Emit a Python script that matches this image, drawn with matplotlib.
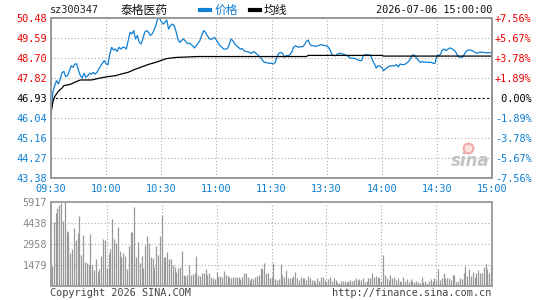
import matplotlib
matplotlib.use('Agg')
import matplotlib.pyplot as plt
from matplotlib.lines import Line2D
import numpy as np

# ---- data ----
code = 'sz300347'
name = '泰格医药'
stamp = '2026-07-06 15:00:00'
prev_close = 46.93

time_labels = ['09:30', '10:00', '10:30', '11:00', '11:30', '13:30', '14:00', '14:30', '15:00']
price_ticks = [43.38, 44.27, 45.16, 46.04, 46.93, 47.82, 48.70, 49.59, 50.48]
price_labels = ['43.38', '44.27', '45.16', '46.04', '46.93', '47.82', '48.70', '49.59', '50.48']
pct_labels = ['-7.56%', '-5.67%', '-3.78%', '-1.89%', ' 0.00%', '+1.89%', '+3.78%', '+5.67%', '+7.56%']
vol_ticks = [1479, 2958, 4438, 5917]

# one price per minute, 09:30 .. 11:30 then 13:00 .. 15:00
price = [
    46.25, 47.18, 47.48, 47.70, 47.55, 47.77, 48.05, 48.11, 47.88, 47.92,
    48.14, 48.36, 48.29, 48.44, 48.44, 48.15, 47.92, 47.82, 48.03, 47.85,
    47.92, 48.03, 47.99, 48.07, 47.99, 48.07, 48.22, 48.36, 48.47, 48.59,
    48.44, 48.41, 48.88, 49.18, 49.06, 49.10, 49.00, 49.18, 49.10, 49.18,
    49.18, 49.10, 49.47, 49.85, 49.77, 49.92, 49.55, 49.70, 49.40, 49.33,
    49.55, 49.85, 49.92, 49.85, 49.70, 49.77, 49.92, 50.14, 50.44, 50.48,
    50.33, 50.21, 50.29, 50.39, 49.99, 50.14, 50.21, 50.15, 49.90, 49.55,
    49.40, 49.47, 49.55, 49.47, 49.36, 49.36, 49.33, 49.25, 49.15, 49.25,
    49.36, 49.47, 49.70, 49.92, 49.85, 49.70, 49.59, 49.52, 49.57, 49.62,
    49.50, 49.36, 49.25, 49.18, 49.10, 49.10, 49.12, 49.30, 49.55, 49.47,
    49.33, 49.25, 49.18, 49.10, 49.13, 49.03, 49.00, 48.98, 48.96, 48.91,
    48.98, 48.96, 48.88, 48.81, 48.74, 48.62, 48.51, 48.51, 48.48, 48.47,
    48.47, 48.44, 48.51, 48.76, 48.91, 48.96, 48.91, 48.74, 48.81, 48.81,
    48.85, 48.96, 49.18, 49.25, 49.21, 49.18, 49.21, 49.21, 49.30, 49.45,
    49.50, 49.30, 49.25, 49.25, 49.21, 49.25, 49.27, 49.30, 49.28, 49.25,
    49.25, 49.18, 49.03, 48.85, 48.81, 48.81, 48.88, 48.91, 48.91, 48.88,
    48.85, 48.81, 48.76, 48.70, 48.70, 48.69, 48.66, 48.62, 48.59, 48.59,
    48.81, 48.85, 48.85, 48.85, 48.81, 48.59, 48.44, 48.26, 48.36, 48.34,
    48.29, 48.14, 48.22, 48.29, 48.34, 48.36, 48.36, 48.36, 48.41, 48.31,
    48.44, 48.41, 48.41, 48.44, 48.51, 48.59, 48.74, 48.85, 48.81, 48.70,
    48.59, 48.51, 48.55, 48.51, 48.53, 48.51, 48.51, 48.51, 48.47, 48.47,
    48.81, 48.81, 48.88, 49.06, 49.10, 49.03, 49.10, 49.15, 49.13, 49.06,
    49.00, 48.85, 48.76, 48.74, 48.74, 48.88, 49.00, 49.06, 49.06, 49.03,
    49.00, 48.94, 48.91, 48.96, 48.96, 48.96, 48.94, 48.94, 48.94, 48.94,
    48.94,
]

# average price line (minute index, value)
avg_min = [0, 1, 2, 4, 6, 7, 9, 11, 13, 15, 16, 22, 27, 31, 35, 38, 42, 45, 49, 53,
           57, 60, 63, 68, 80, 139, 140, 180, 181, 240]
avg_val = [46.25, 46.74, 46.99, 47.23, 47.37, 47.48, 47.51, 47.55, 47.63, 47.70,
           47.73, 47.73, 47.82, 47.88, 47.92, 47.99, 48.07, 48.18, 48.30, 48.42,
           48.51, 48.60, 48.68, 48.73, 48.77, 48.77, 48.82, 48.82, 48.79, 48.79]

volume = [
    1385, 4461, 5095, 5447, 5682, 5800, 4555, 5917, 3851, 3757,
    2278, 2559, 4039, 3217, 3686, 4907, 2160, 3569, 1691, 1620,
    1456, 3616, 1456, 1104, 1855, 986, 1174, 2090, 3264, 3217,
    1221, 2278, 2559, 4673, 3264, 2982, 4156, 2465, 2043, 2278,
    2090, 1150, 2794, 3804, 3804, 5565, 2043, 3052, 1573, 2090,
    1221, 2865, 3499, 2982, 2043, 1925, 1291, 2794, 2160, 3499,
    4978, 2043, 2043, 2395, 1855, 1855, 1456, 1291, 986, 1221,
    1291, 2442, 751, 681, 751, 1456, 751, 822, 869, 2090,
    751, 704, 869, 869, 1174, 751, 916, 587, 517, 446,
    986,
    587, 681, 634, 1033, 751, 681, 587, 517, 634, 587,
    634, 587, 446, 587, 869, 869, 587, 399, 517, 446,
    587, 681, 751, 1221, 1150, 1573, 869, 916, 517, 587,
    1573, 446, 399, 446, 1526, 751, 587, 1104, 517, 517,
    517, 681, 986, 517, 399, 587, 517, 517, 399, 681,
    564, 399, 399, 282, 517, 352, 587, 587, 399, 282,
    446, 634, 352, 517, 399, 282, 164, 352, 352, 352,
    282, 352, 399, 352, 399, 517, 399, 446, 399, 517,
    282, 352, 517, 517, 869, 587, 681, 634, 517, 352,
    2160, 751, 517, 399, 751, 517, 587, 399, 517, 352,
    282, 587, 352, 446, 282, 446, 352, 282, 352, 282,
    211, 587, 282, 352, 211, 352, 446, 352, 517, 399,
    1150, 399, 517, 916, 564, 564, 517, 399, 751, 751,
    282, 352, 517, 446, 916, 1385, 681, 1150, 681, 986,
    634, 869, 1104, 916, 916, 1338, 1526, 1174, 869, 1526,
]

# ---- style ----
BLUE = '#0f7fd2'
RED = '#ee0000'
GRID = '#aaaaaa'
FRAME = '#999999'
MONO = 'DejaVu Sans Mono'
CJK = ['Noto Sans CJK SC', 'DejaVu Sans']
FS = 7.4

plt.rcParams['font.family'] = [MONO]

W, H = 545, 300
fig = plt.figure(figsize=(W / 100, H / 100), dpi=100)
fig.patch.set_facecolor('white')


def fx(x):
    return x / W


def fy(y):
    return 1 - y / H


ax = fig.add_axes([fx(51), fy(178), 441 / W, 160 / H])
axv = fig.add_axes([fx(51), fy(285.7), 441 / W, 84 / H])

minutes = np.arange(len(price))
grid_minutes = [30, 60, 90, 120, 150, 180, 210]
dotted = (0, (1, 2))

# price panel
for t in grid_minutes:
    ax.axvline(t, color=GRID, lw=0.8, ls=dotted, zorder=1)
for y in price_ticks[1:-1]:
    if y == prev_close:
        ax.axhline(y, color='black', lw=0.8, ls=(0, (2, 2)), zorder=1)
    else:
        ax.axhline(y, color=GRID, lw=0.8, ls=dotted, zorder=1)

ax.plot(minutes, price, color=BLUE, lw=0.9, zorder=3)
ax.plot(avg_min, avg_val, color='black', lw=0.9, zorder=4)
ax.set_xlim(0, 240)
ax.set_ylim(price_ticks[0], price_ticks[-1])

ax.set_yticks(price_ticks)
ax.set_yticklabels(price_labels)
ax.set_xticks(range(0, 241, 30))
ax.set_xticklabels(time_labels)
ax.tick_params(length=0, labelsize=FS, pad=3)
ax.tick_params(axis='x', colors=BLUE, pad=4)
for lbl, v in zip(ax.get_yticklabels(), price_ticks):
    lbl.set_color(RED if v > prev_close else ('black' if v == prev_close else BLUE))

ax2 = ax.twinx()
ax2.set_ylim(price_ticks[0], price_ticks[-1])
ax2.set_yticks(price_ticks)
ax2.set_yticklabels(pct_labels)
ax2.tick_params(length=0, labelsize=FS, pad=2)
for lbl, v in zip(ax2.get_yticklabels(), price_ticks):
    lbl.set_color(RED if v > prev_close else ('black' if v == prev_close else BLUE))

for a in (ax, ax2, axv):
    for s in a.spines.values():
        s.set_color(FRAME)
        s.set_linewidth(1.3)

# sina watermark
ax.text(0.995, 0.05, 'sina', transform=ax.transAxes, ha='right', va='bottom',
        fontsize=12, fontstyle='italic', fontweight='bold', color='#c4c4c4',
        family='DejaVu Sans', zorder=2)
ax.plot([0.945], [0.19], transform=ax.transAxes, marker='o', ms=7,
        mfc='#fbe3e3', mec='#f2a9a9', mew=1.5, zorder=2)

# volume panel
for t in grid_minutes:
    axv.axvline(t, color=GRID, lw=0.8, ls=dotted, zorder=1)
for y in vol_ticks[:-1]:
    axv.axhline(y, color=GRID, lw=0.8, ls=dotted, zorder=1)
axv.vlines(minutes, 0, volume, color='#999999', lw=0.9, zorder=2)
axv.set_xlim(-0.5, 240.5)
axv.set_ylim(0, vol_ticks[-1])
axv.set_xticks([])
axv.set_yticks(vol_ticks)
axv.set_yticklabels([str(v) for v in vol_ticks])
axv.tick_params(length=0, labelsize=FS, pad=3, colors='#888888')

# header
fig.text(fx(50), fy(10), code, ha='left', va='center', fontsize=FS, color='#222222')
fig.text(fx(121), fy(10), name, ha='left', va='center', fontsize=8.5,
         family=CJK, color='#111111')
fig.add_artist(Line2D([fx(200), fx(210)], [fy(10), fy(10)], color=BLUE, lw=3))
fig.text(fx(215), fy(10), '价格', ha='left', va='center', fontsize=8.5,
         family=CJK, color=BLUE)
fig.add_artist(Line2D([fx(250), fx(260)], [fy(10), fy(10)], color='black', lw=3))
fig.text(fx(264), fy(10), '均线', ha='left', va='center', fontsize=8.5,
         family=CJK, color='#111111')
fig.text(fx(492), fy(10), stamp, ha='right', va='center', fontsize=FS, color='#111111')

# footer
fig.text(fx(50), fy(293), 'Copyright 2026 SINA.COM', ha='left', va='center',
         fontsize=FS, color='#444444')
fig.text(fx(491), fy(293), 'http://finance.sina.com.cn', ha='right', va='center',
         fontsize=FS, color='#444444')

fig.savefig('out.png', dpi=100)
